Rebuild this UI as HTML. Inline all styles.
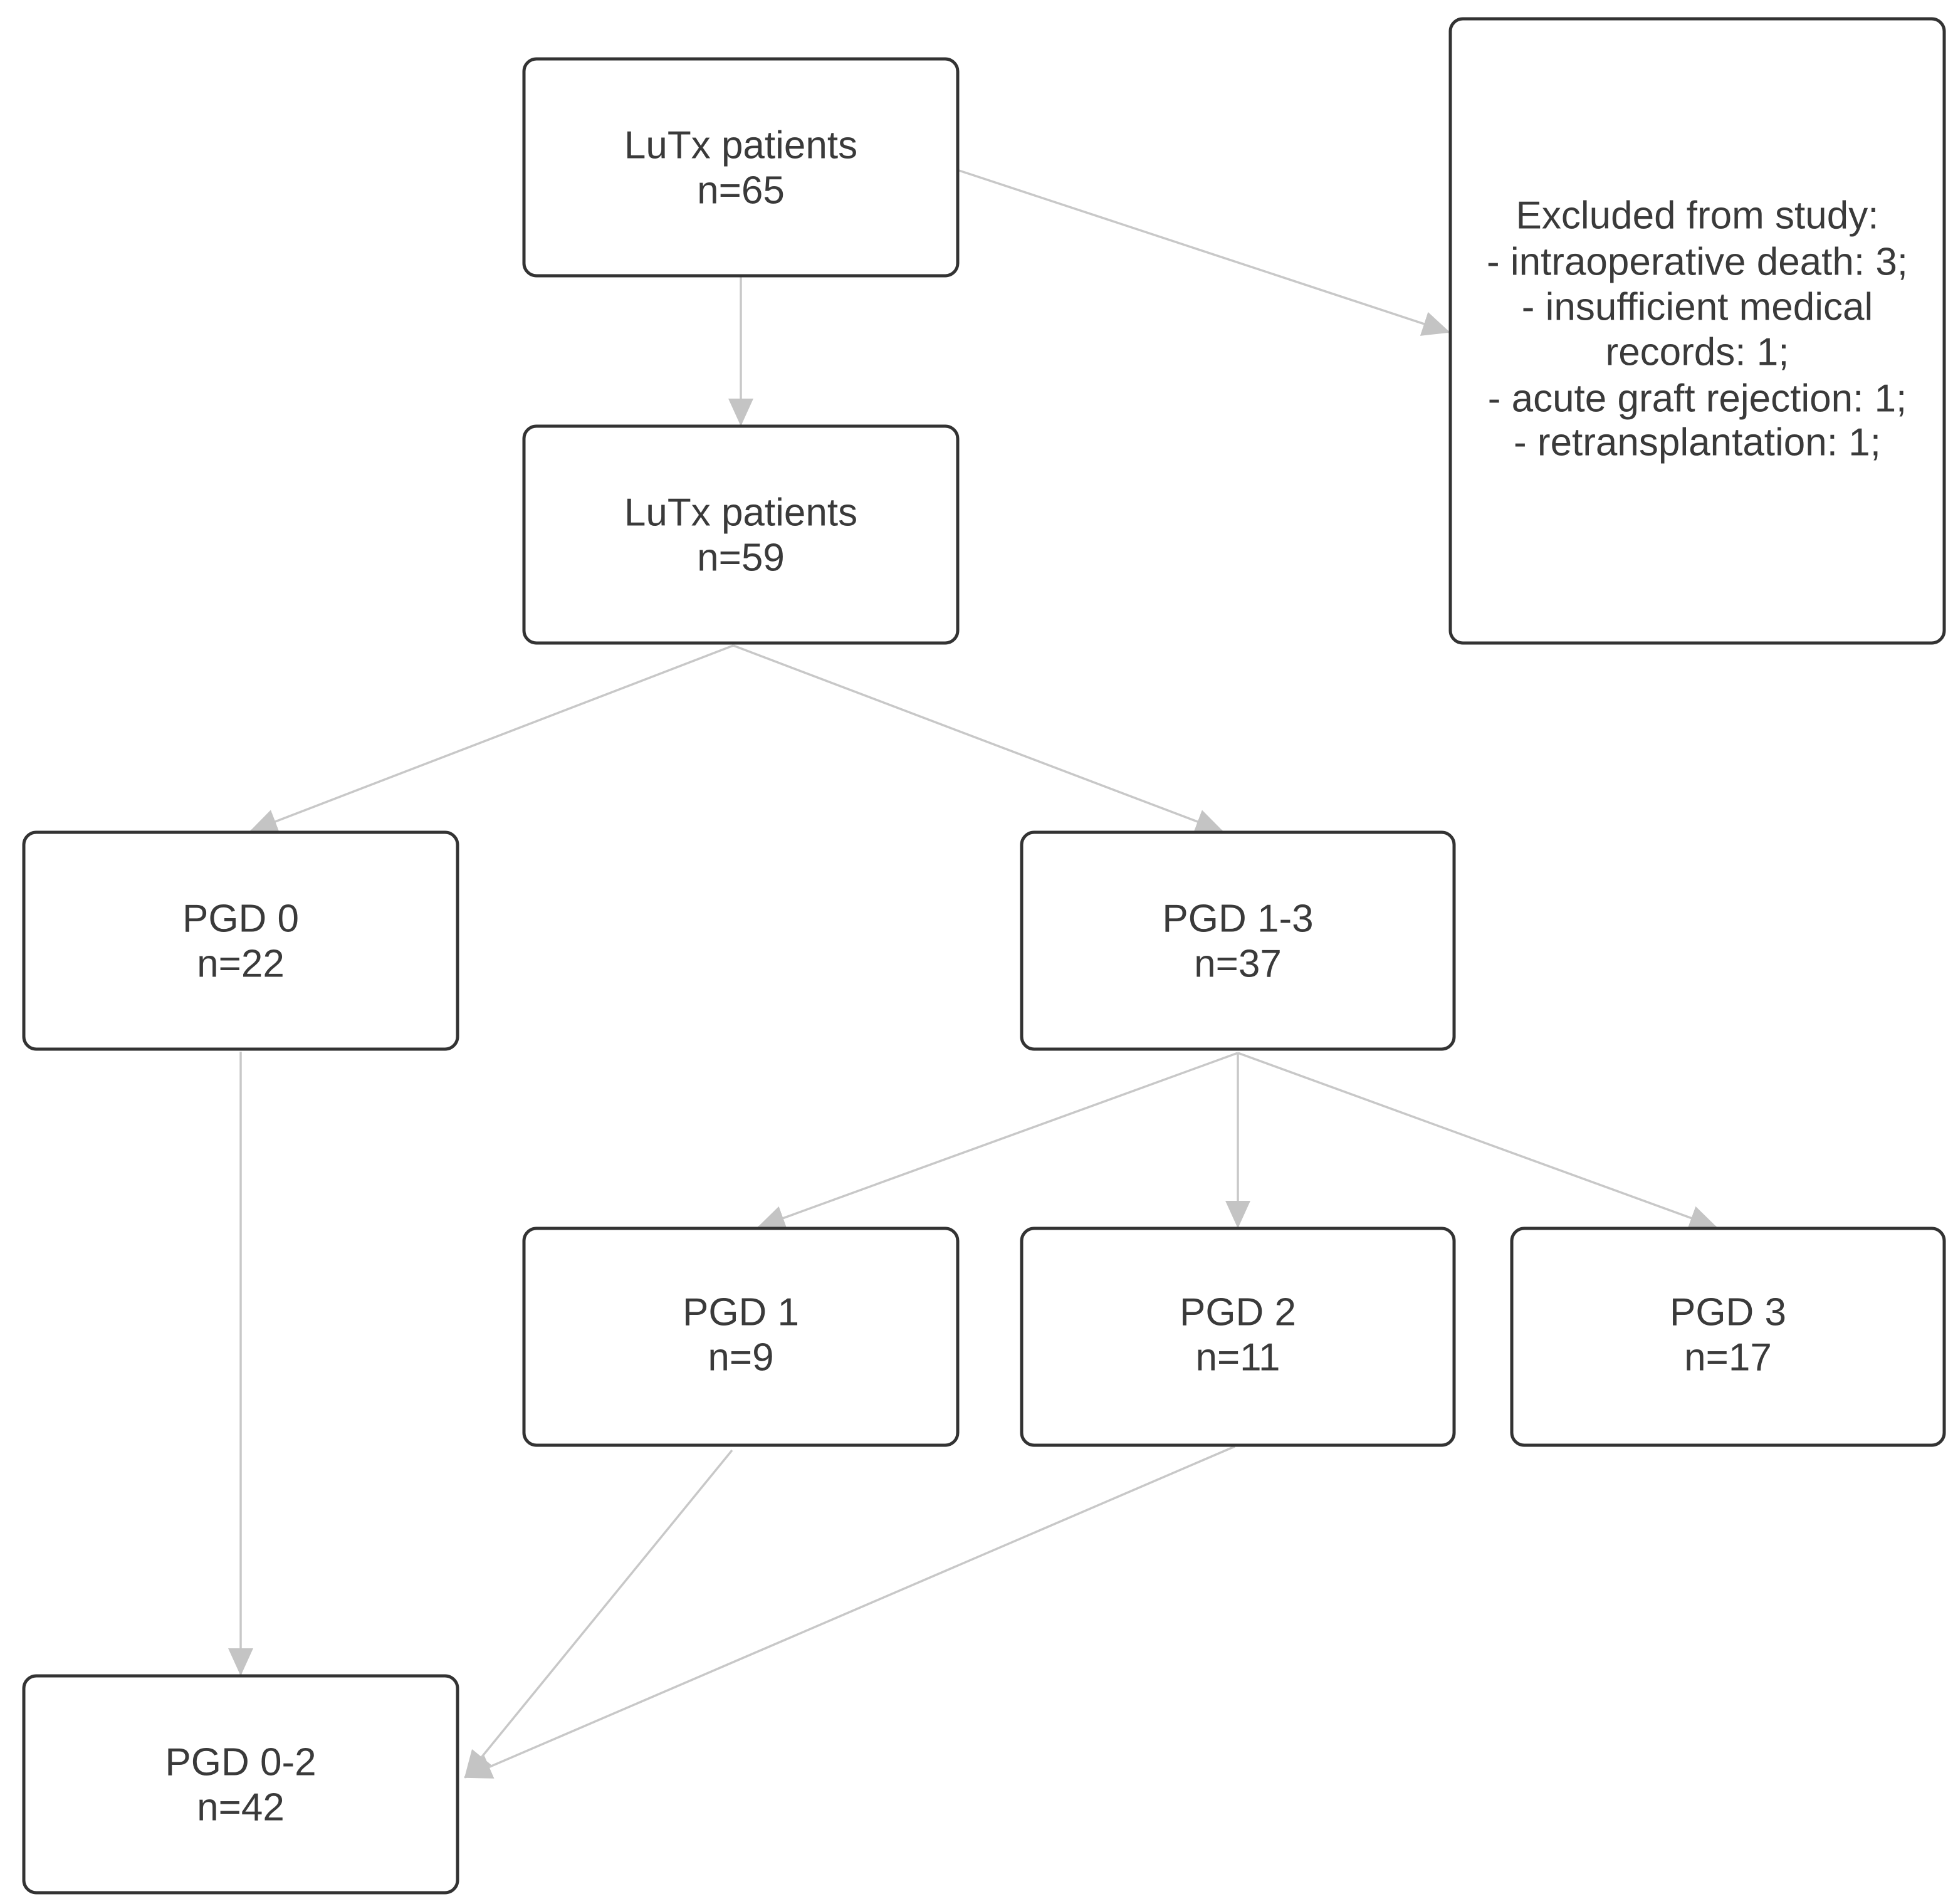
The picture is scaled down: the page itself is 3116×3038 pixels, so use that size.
<!DOCTYPE html>
<html><head><meta charset="utf-8"><style>
html,body{margin:0;padding:0;background:#fff;}
svg{display:block;}
text{font-family:"Liberation Sans",Arial,sans-serif;font-size:62px;fill:#3a3a3a;text-anchor:middle;dominant-baseline:central;}
</style></head><body>
<svg width="3116" height="3038" viewBox="0 0 3116 3038" xmlns="http://www.w3.org/2000/svg">
<defs>
<marker id="a" markerWidth="44" markerHeight="40" refX="42" refY="20" orient="auto" markerUnits="userSpaceOnUse">
<path d="M0,0 L44,20 L0,40 Z" fill="#c4c4c4"/>
</marker>
</defs>
<g stroke="#c8c8c8" stroke-width="3.5" fill="none" marker-end="url(#a)">
<line x1="1182" y1="442" x2="1182" y2="678"/>
<line x1="1530" y1="272" x2="2312" y2="530"/>
<line x1="1170" y1="1030" x2="400" y2="1326"/>
<line x1="1170" y1="1030" x2="1950" y2="1326"/>
<line x1="384" y1="1678" x2="384" y2="2672"/>
<line x1="1975" y1="1680" x2="1210" y2="1958"/>
<line x1="1975" y1="1680" x2="1975" y2="1958"/>
<line x1="1975" y1="1680" x2="2738" y2="1958"/>
<line x1="1168" y1="2314" x2="742" y2="2836"/>
<line x1="1970" y1="2308" x2="742" y2="2836"/>
</g>
<g stroke="#333" stroke-width="5" fill="#fff">
<rect x="836" y="94" width="692" height="346" rx="20"/>
<rect x="836" y="680" width="692" height="346" rx="20"/>
<rect x="2314" y="30" width="788" height="996" rx="20"/>
<rect x="38" y="1328" width="692" height="346" rx="20"/>
<rect x="1630" y="1328" width="690" height="346" rx="20"/>
<rect x="836" y="1960" width="692" height="346" rx="20"/>
<rect x="1630" y="1960" width="690" height="346" rx="20"/>
<rect x="2412" y="1960" width="690" height="346" rx="20"/>
<rect x="38" y="2674" width="692" height="346" rx="20"/>
</g>
<text x="1182" y="232">LuTx patients</text><text x="1182" y="304">n=65</text>
<text x="1182" y="818">LuTx patients</text><text x="1182" y="890">n=59</text>
<text x="2708" y="344">Excluded from study:</text>
<text x="2708" y="418">- intraoperative death: 3;</text>
<text x="2708" y="490">- insufficient medical</text>
<text x="2708" y="562">records: 1;</text>
<text x="2708" y="636">- acute graft rejection: 1;</text>
<text x="2708" y="706">- retransplantation: 1;</text>
<text x="384" y="1466">PGD 0</text><text x="384" y="1538">n=22</text>
<text x="1975" y="1466">PGD 1-3</text><text x="1975" y="1538">n=37</text>
<text x="1182" y="2094">PGD 1</text><text x="1182" y="2166">n=9</text>
<text x="1975" y="2094">PGD 2</text><text x="1975" y="2166">n=11</text>
<text x="2757" y="2094">PGD 3</text><text x="2757" y="2166">n=17</text>
<text x="384" y="2812">PGD 0-2</text><text x="384" y="2884">n=42</text>
</svg>
</body></html>
